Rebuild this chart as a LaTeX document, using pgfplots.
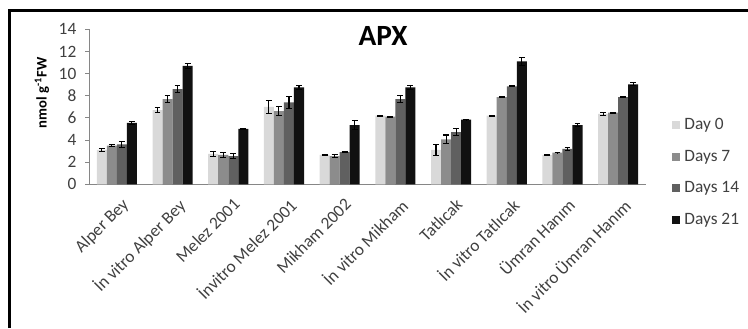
\documentclass[border=0pt]{standalone}
\usepackage{pgfplots}
\pgfplotsset{compat=1.18}
\usepackage{pgfplotstable}
\usepackage{fontspec}
\setmainfont{Carlito}
\definecolor{cA}{HTML}{D9D9D9}
\definecolor{cB}{HTML}{8C8C8C}
\definecolor{cC}{HTML}{606060}
\definecolor{cD}{HTML}{111111}
\definecolor{txt}{HTML}{404040}
\definecolor{axl}{HTML}{868686}
\pgfplotstableread{
x d0 e0 d7 e7 d14 e14 d21 e21
0 3.1 0.10 3.5 0.10 3.6 0.30 5.55 0.15
1 6.7 0.25 7.7 0.30 8.6 0.35 10.7 0.25
2 2.75 0.20 2.65 0.20 2.55 0.25 5.0 0.05
3 7.0 0.60 6.6 0.40 7.4 0.55 8.75 0.15
4 2.65 0.05 2.55 0.10 2.9 0.05 5.35 0.40
5 6.2 0.05 6.1 0.05 7.7 0.35 8.75 0.20
6 3.1 0.50 4.05 0.40 4.7 0.30 5.85 0.02
7 6.2 0.05 7.86 0.05 8.85 0.05 11.1 0.35
8 2.65 0.02 2.85 0.02 3.2 0.15 5.35 0.15
9 6.35 0.15 6.47 0.05 7.86 0.05 9.03 0.15
}\datatable
\begin{document}
\begin{tikzpicture}
\path[use as bounding box] (0,0) rectangle (561pt,-246pt);
\draw[line width=2.25pt, line join=miter] (6.75pt,-246pt) -- (6.75pt,-8pt) -- (561pt,-8pt);
\begin{axis}[
  at={(66.75pt,-138.2pt)}, anchor=south west,
  scale only axis, width=417.75pt, height=116.25pt,
  xmin=-0.5, xmax=9.5, ymin=0, ymax=14,
  axis x line*=bottom, axis y line*=left,
  axis line style={axl, -},
  tick style={axl, line width=0.6pt},
  tick align=outside,
  ytick={0,2,...,14},
  major tick length=3pt,
  xtick={0,...,9},
  x tick style={draw=none},
  extra x ticks={-0.5,0.5,...,9.5},
  extra x tick labels={},
  extra x tick style={tick style={axl, line width=0.6pt}, major tick length=3.75pt},
  xticklabels={Alper Bey, İn vitro Alper Bey, Melez 2001, İnvitro Melez 2001, Mikham 2002, İn vitro Mikham, Tatlıcak, İn vitro Tatlıcak, Ümran Hanım, İn vitro Ümran Hanım},
  xticklabel shift=5pt,
  x tick label style={xshift=3pt, rotate=45, anchor=north east, inner sep=1pt, font=\fontsize{13}{15}\selectfont, text=txt},
  yticklabel shift=3pt,
  y tick label style={font=\fontsize{13}{15}\selectfont, text=txt},
  /pgf/number format/assume math mode=true,
  ybar=0pt, bar width=0.18,
  ylabel={\textbf{nmol g\textsuperscript{-1}FW}},
  ylabel style={at={(axis description cs:-0.0844,0.589)}, anchor=center, font=\fontsize{11}{13}\selectfont},
  title={\textbf{APX}},
  title style={at={(axis description cs:0.528,0.905)}, anchor=center, font=\fontsize{22}{25}\selectfont},
  legend style={at={(axis description cs:1.047,0.076)}, anchor=west, draw=none, fill=none,
    font=\fontsize{13}{15}\selectfont, text=txt, row sep=13.8pt, inner sep=0pt,
    nodes={inner xsep=3pt, inner ysep=0pt}},
  legend cell align=left,
  legend image code/.code={\fill[#1] (0pt,-3pt) rectangle (6pt,3pt);},
  error bars/error bar style={black, line width=0.8pt},
  error bars/error mark options={black, line width=0.8pt, mark size=2.2pt, rotate=90},
]
\addplot[fill=cA, draw=none, error bars/.cd, y dir=both, y explicit] table[x=x, y=d0, y error=e0] {\datatable};
\addplot[fill=cB, draw=none, error bars/.cd, y dir=both, y explicit] table[x=x, y=d7, y error=e7] {\datatable};
\addplot[fill=cC, draw=none, error bars/.cd, y dir=both, y explicit] table[x=x, y=d14, y error=e14] {\datatable};
\addplot[fill=cD, draw=none, error bars/.cd, y dir=both, y explicit] table[x=x, y=d21, y error=e21] {\datatable};
\legend{Day 0, Days 7, Days 14, Days 21}
\end{axis}
\end{tikzpicture}
\end{document}
